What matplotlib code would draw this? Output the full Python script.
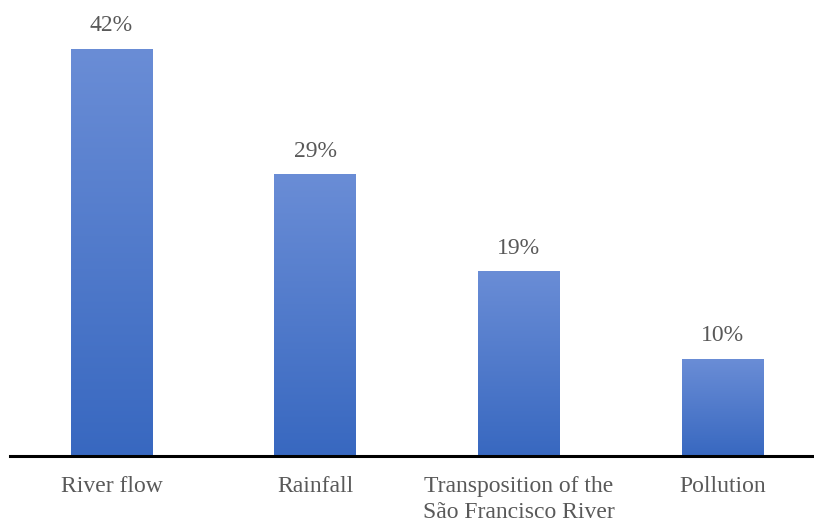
import matplotlib
matplotlib.use("Agg")
import matplotlib.pyplot as plt
import numpy as np
from matplotlib.colors import LinearSegmentedColormap

categories = ["River flow", "Rainfall", "Transposition of the\nSão Francisco River", "Pollution"]
values = [42, 29, 19, 10]
labels = ["42%", "29%", "19%", "10%"]

plt.rcParams['font.family'] = ['Liberation Serif', 'DejaVu Serif']

fig = plt.figure(figsize=(8.14, 5.21), dpi=100)
ax = fig.add_axes([10/814, 65/521, 804/814, 456/521])

x = np.arange(len(categories))
width = 0.40
ymax = 42 * 456 / 407
ax.set_xlim(-0.498, 3.449)
ax.set_ylim(0, ymax)

cmap = LinearSegmentedColormap.from_list("g", ["#3868C0", "#6A8DD6"])
grad = np.linspace(0, 1, 256).reshape(-1, 1)
bars = ax.bar(x, values, width=width, color="none", edgecolor="none")
for b, v, lab in zip(bars, values, labels):
    x0 = b.get_x()
    ax.imshow(grad, cmap=cmap, origin="lower", aspect="auto",
              extent=[x0, x0 + width, 0, v], zorder=2, interpolation="bicubic")
    ax.text(b.get_x() + width / 2, v + ymax * 18 / 456, lab, ha="center", va="baseline",
            fontsize=17, color="#595959")

ax.set_xlim(-0.498, 3.449)
ax.set_ylim(0, ymax)
for s in ["top", "right", "left"]:
    ax.spines[s].set_visible(False)
ax.spines["bottom"].set_linewidth(2.2)
ax.spines["bottom"].set_color("black")
ax.set_yticks([])
ax.set_xticks(x)
ax.set_xticklabels(categories, fontsize=17, color="#595959", va="top", linespacing=1.28)
ax.tick_params(axis="x", length=0, pad=14.5)

fig.savefig("out.png", dpi=100)
